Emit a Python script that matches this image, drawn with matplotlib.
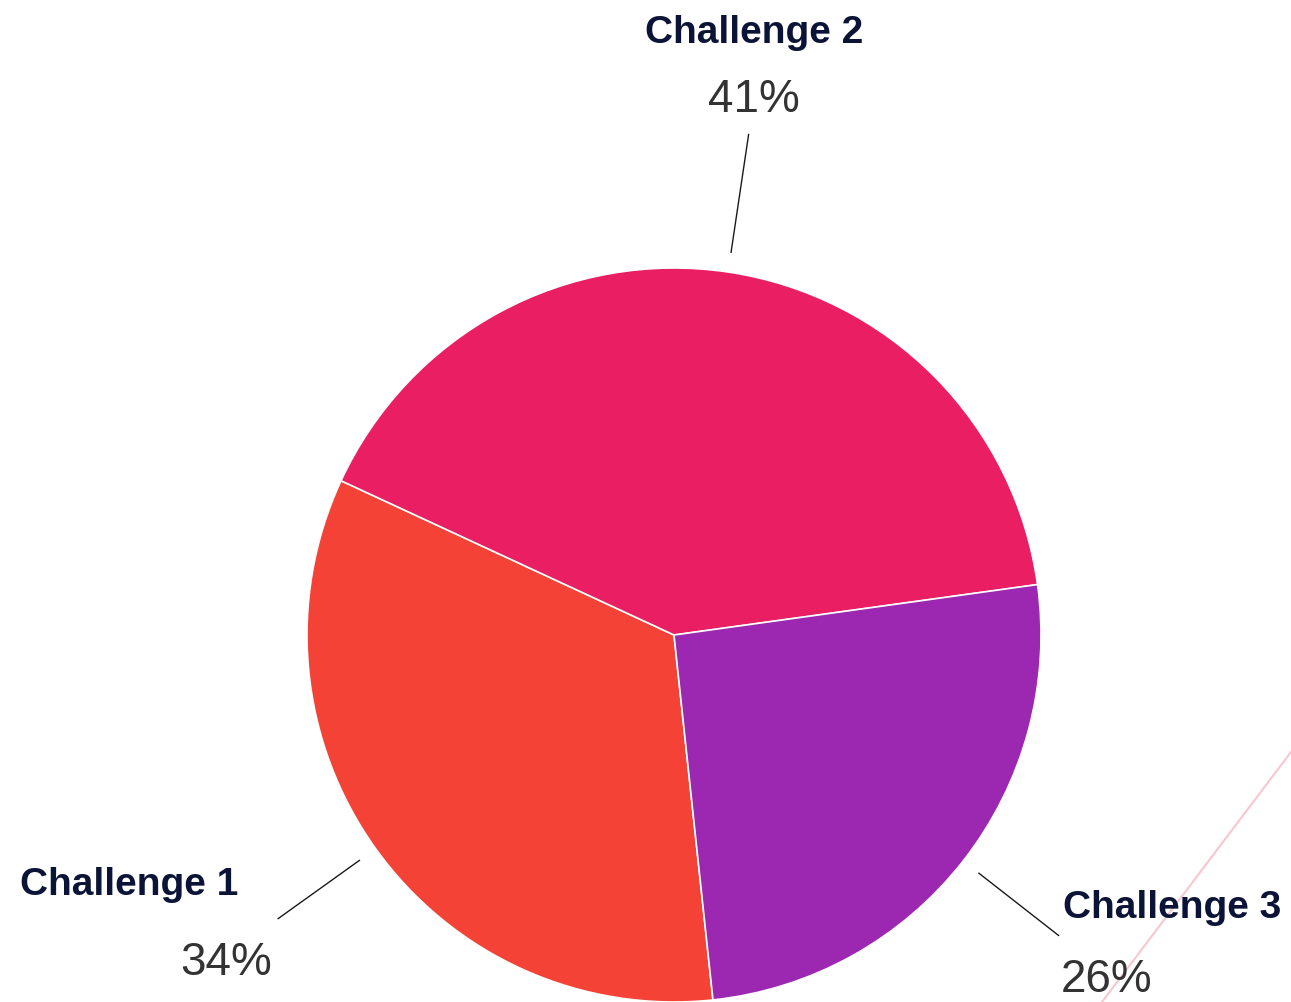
import numpy as np
import matplotlib
matplotlib.use("Agg")
import matplotlib.pyplot as plt
from matplotlib.lines import Line2D

# slice values (percent), in clockwise order
labels = ["Challenge 1", "Challenge 2", "Challenge 3"]
values = [33.6, 40.9, 25.5]
pct_text = ["34%", "41%", "26%"]
colors = ["#F44336", "#E91E63", "#9C27B0"]

W, H = 1291, 1003
plt.rcParams["font.family"] = ["Liberation Sans", "DejaVu Sans"]

fig = plt.figure(figsize=(W / 100, H / 100), dpi=100)
ax = fig.add_axes([0, 0, 1, 1])

cx, cy, R = 674, H - 636, 367
wedges, _ = ax.pie(values, colors=colors, startangle=-83.9, counterclock=False,
                   center=(cx, cy), radius=R,
                   wedgeprops=dict(edgecolor="white", linewidth=1.2))
ax.set_xlim(0, W)
ax.set_ylim(0, H)
ax.set_aspect("equal")
ax.axis("off")

# label placement (pixel coords from top-left): name baseline, pct baseline
name_pos = [(129, 895), (754, 43), (1172, 918)]
pct_pos = [(226, 975), (754, 112), (1107, 992)]
line_len = [100, 119, 101]

for i, w in enumerate(wedges):
    mid = np.deg2rad((w.theta1 + w.theta2) / 2)
    r0 = R + 20
    r1 = r0 + line_len[i]
    ax.plot([cx + r0 * np.cos(mid), cx + r1 * np.cos(mid)],
            [cy + r0 * np.sin(mid), cy + r1 * np.sin(mid)],
            color="#1a1a1a", lw=1)
    nx, ny = name_pos[i]
    ax.text(nx, H - ny, labels[i], ha="center", va="baseline",
            fontsize=28, fontweight="bold", color="#0B1437")
    px, py = pct_pos[i]
    ax.text(px, H - py, pct_text[i], ha="center", va="baseline",
            fontsize=33, color="#333333")

# faint stray line in the bottom right corner, behind everything
fig.add_artist(Line2D([1291 / W, 1102 / W], [1 - 753 / H, 1 - 1003 / H],
                      transform=fig.transFigure, color="#F8C6CF", lw=1.5,
                      zorder=-1))

fig.savefig("out.png", dpi=100)
